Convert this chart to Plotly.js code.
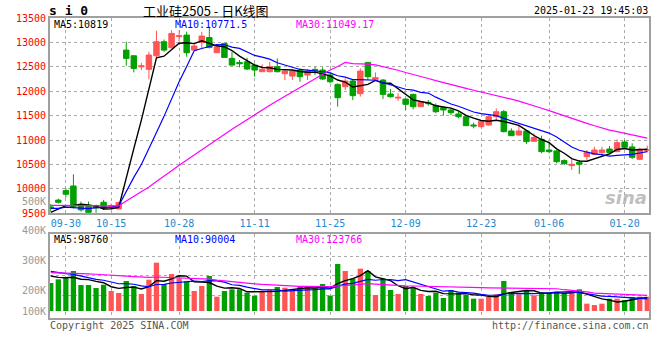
<!DOCTYPE html>
<html><head><meta charset="utf-8">
<script src="https://cdn.plot.ly/plotly-3.0.1.min.js"></script>
<style>html,body{margin:0;padding:0;background:#fff;}#chart{width:660px;height:360px;}</style>
</head><body><div id="chart"></div>
<script>
// ---------- data ----------
const dates = ['09-26','09-27','09-30','10-08','10-09','10-10','10-11','10-14','10-15','10-16','10-17','10-18','10-21','10-22','10-23','10-24','10-25','10-28','10-29','10-30','10-31','11-01','11-04','11-05','11-06','11-07','11-08','11-11','11-12','11-13','11-14','11-15','11-18','11-19','11-20','11-21','11-22','11-25','11-26','11-27','11-28','11-29','12-02','12-03','12-04','12-05','12-06','12-09','12-10','12-11','12-12','12-13','12-16','12-17','12-18','12-19','12-20','12-23','12-24','12-25','12-26','12-27','12-30','12-31','01-02','01-03','01-06','01-07','01-08','01-09','01-10','01-13','01-14','01-15','01-16','01-17','01-20','01-21','01-22','01-23'];
const openP  = [9630,9770,9965,10060,9658,9640,9640,9727,9620,9590,12843,12727,12500,12448,12727,13014,12890,13120,13150,12843,13000,13100,12789,12980,12673,12590,12604,12536,12400,12400,12502,12359,12311,12434,12332,12447,12434,12332,12140,12093,12209,11950,12590,12243,12229,11943,11860,11840,11936,11684,11772,11704,11663,11616,11534,11479,11309,11275,11309,11479,11581,11186,11104,11186,10975,11015,10797,10777,10579,10477,10545,10660,10708,10743,10817,10763,10961,10859,10606,10790];
const highP  = [9690,9800,10013,10300,9740,9740,9680,9775,9700,9740,13014,12730,12584,12809,13240,13060,13250,13250,13218,12980,13218,13320,12945,12980,12809,12640,12686,12570,12550,12604,12672,12434,12434,12468,12454,12500,12490,12366,12161,12263,12230,12468,12590,12386,12250,12045,11957,11854,11950,11800,11820,11752,11684,11650,11581,11479,11356,11390,11493,11650,11616,11240,11288,11206,11138,11090,10968,10797,10606,10606,10592,10797,10865,10865,10879,11015,11002,10934,10845,10886];
const lowP   = [9535,9700,9822,9600,9535,9510,9510,9570,9580,9580,12523,12386,12434,12243,12700,12809,12877,13014,12707,12843,12877,12877,12789,12693,12523,12490,12434,12298,12400,12386,12386,12230,12230,12195,12230,12332,12230,12160,11684,12025,11820,11890,12230,12243,11840,11868,11800,11616,11630,11684,11704,11547,11500,11513,11445,11295,11240,11254,11295,11411,11158,11090,11090,10920,10975,10730,10730,10524,10490,10388,10306,10592,10695,10660,10708,10750,10817,10613,10593,10750];
const closeP = [9600,9725,9890,9640,9570,9520,9610,9604,9660,9720,12673,12468,12520,12741,13014,12843,13184,13136,12789,12925,13130,12898,12911,12693,12536,12563,12454,12434,12447,12502,12400,12413,12413,12298,12413,12420,12250,12195,11868,12209,11909,12413,12298,12277,11936,11888,11875,11732,11684,11772,11745,11581,11616,11561,11479,11295,11290,11377,11479,11581,11172,11090,11186,10968,11050,10763,10763,10558,10517,10504,10504,10750,10797,10797,10743,10947,10852,10647,10811,10797];
const volume = [210000,237500,250000,300000,195000,195000,172500,197500,150000,135000,225000,187500,127500,235000,362500,202500,277500,245000,222500,150000,187500,262500,107500,150000,162500,162500,137500,115000,145000,157500,180000,175000,150000,180000,187500,170000,202500,115000,352500,300000,242500,317500,300000,120000,242500,157500,127500,187500,175000,127500,112500,137500,97500,157500,137500,120000,92500,92500,107500,125000,225000,142500,125000,150000,117500,137500,137500,145000,130000,137500,162500,55000,45000,55000,92500,92500,82500,105000,107500,107500];
// closes / volumes before the visible window (estimated from where the MA lines start)
const priorCloses = [9720,9680,9750,9700,9640,9660,9710,9740,9690,9650,9700,9730,9680,9660,9700,9720,9670,9650,9690,9710,9700,9660,9720,9690,9630,9380,9550,9620,9450];
const priorVolumes = [270000,300000,260000,290000,310000,280000,265000,295000,275000,285000,300000,270000,260000,290000,285000,275000,295000,280000,270000,295000,340000,320000,350000,330000,322500,290000,265000,280000,267500];
const tickDates = ['09-30','10-15','10-28','11-11','11-25','12-09','12-23','01-06','01-20'];
const priceTicks = [9500,10000,10500,11000,11500,12000,12500,13000,13500];
const volLabels = ['500K','400K','300K','200K','100K'];
const priceLegend = ['MA5:10819','MA10:10771.5','MA30:11049.17'];
const volLegend = ['MA5:98760','MA10:90004','MA30:123766'];
const symbolText = 's i 0';
const titleText = '工业硅2505 - 日K线图';
const timeText = '2025-01-23 19:45:03';
const copyText = 'Copyright 2025 SINA.COM';
const urlText = 'http://finance.sina.com.cn';

// ---------- helpers ----------
function movingAvg(hist, vals, n) {
  const all = hist.concat(vals);
  return vals.map((_, i) => {
    const end = hist.length + i; let s = 0;
    for (let k = end - n + 1; k <= end; k++) s += all[k];
    return s / n;
  });
}
const idx = dates.map((_, i) => i);
const tickvals = tickDates.map(d => dates.indexOf(d));
const RED = '#FF5555', GREEN = '#00A000';
const MONO = 'DejaVu Sans Mono';
const W = 660, ML = 50, MR = 11, MT = 18, MB = 42;
const PW = W - ML - MR, PH = 360 - MT - MB;
const px = x => (x - ML) / PW;
const py = y => (360 - MB - y) / PH;

const maColors = ['#000000', '#0000FF', '#FF00FF'];
const maN = [5, 10, 30];

const traces = [];
traces.push({
  type: 'candlestick', x: idx, open: openP, high: highP, low: lowP, close: closeP,
  xaxis: 'x', yaxis: 'y', whiskerwidth: 0,
  increasing: {line: {color: RED, width: 1}, fillcolor: RED},
  decreasing: {line: {color: GREEN, width: 1}, fillcolor: GREEN},
  hoverinfo: 'skip'
});
maN.forEach((n, k) => traces.push({
  type: 'scatter', mode: 'lines', x: idx, y: movingAvg(priorCloses, closeP, n),
  xaxis: 'x', yaxis: 'y', line: {color: maColors[k], width: k === 0 ? 1.4 : 1.2}, hoverinfo: 'skip'
}));
traces.push({
  type: 'bar', x: idx, y: volume, xaxis: 'x2', yaxis: 'y2', width: 0.7,
  marker: {color: idx.map(i => closeP[i] >= openP[i] ? RED : GREEN), line: {width: 0}},
  hoverinfo: 'skip'
});
maN.forEach((n, k) => traces.push({
  type: 'scatter', mode: 'lines', x: idx, y: movingAvg(priorVolumes, volume, n),
  xaxis: 'x2', yaxis: 'y2', line: {color: maColors[k], width: k === 0 ? 1.4 : 1.2}, hoverinfo: 'skip'
}));

const gridStyle = {showgrid: true, gridcolor: '#ABABAB', griddash: 'dot', gridwidth: 1,
  showline: true, mirror: true, linecolor: '#A0A0A0', linewidth: 2, zeroline: false, ticks: '', fixedrange: true};

const ann = [];
function A(text, x, y, anchor, font) {
  ann.push({text: text, xref: 'paper', yref: 'paper', x: px(x), y: py(y), xanchor: anchor, yanchor: 'middle',
    showarrow: false, font: font, borderpad: 0});
}
A(symbolText, 48, 10, 'left', {family: MONO, size: 13, color: '#000', weight: 'bold'});
A(titleText, 206, 10, 'center', {family: 'Noto Sans CJK SC', size: 13, color: '#000'});
A(timeText, 649, 11, 'right', {family: MONO, size: 10, color: '#000'});
const legX = [53, 174, 295];
priceLegend.forEach((t, k) => A(t, legX[k], 24, 'left', {family: MONO, size: 10, color: maColors[k]}));
volLegend.forEach((t, k) => A(t, legX[k], 239, 'left', {family: MONO, size: 10, color: maColors[k]}));
const volLabY = [201, 230, 260, 290.5, 311];
volLabels.forEach((t, k) => A(t, 47, volLabY[k], 'right', {family: MONO, size: 10, color: '#999999'}));
A(copyText, 49, 325, 'left', {family: MONO, size: 10, color: '#555555'});
A(urlText, 650, 325, 'right', {family: MONO, size: 10, color: '#555555'});
A('sina', 648, 197, 'right', {family: 'DejaVu Sans', size: 18, color: 'rgba(170,170,170,0.75)', weight: 'bold', style: 'italic'});

const layout = {
  width: W, height: 360, margin: {l: ML, r: MR, t: MT, b: MB, pad: 0},
  paper_bgcolor: '#fff', plot_bgcolor: '#fff', showlegend: false, hovermode: false,
  boxgap: 0.15, boxgroupgap: 0.15,
  xaxis: Object.assign({}, gridStyle, {domain: [0, 1], anchor: 'y', range: [-0.1, 79.23],
    tickmode: 'array', tickvals: tickvals, ticktext: tickDates,
    tickfont: {family: MONO, size: 10, color: '#1E88D0'}, rangeslider: {visible: false}}),
  yaxis: Object.assign({}, gridStyle, {domain: [0.349, 1], anchor: 'x', range: [9500, 13500],
    tickmode: 'array', tickvals: priceTicks, ticktext: priceTicks.map(String),
    tickfont: {family: MONO, size: 10, color: '#FF0000'}}),
  xaxis2: Object.assign({}, gridStyle, {domain: [0, 1], anchor: 'y2', range: [-0.1, 79.23],
    tickmode: 'array', tickvals: tickvals, showticklabels: false}),
  yaxis2: Object.assign({}, gridStyle, {domain: [0, 0.28], anchor: 'x2', range: [-52500, 577500],
    tickmode: 'array', tickvals: [120000, 266000, 412000], showticklabels: false}),
  annotations: ann
};
Plotly.newPlot('chart', traces, layout, {staticPlot: true, displayModeBar: false});
</script></body></html>
